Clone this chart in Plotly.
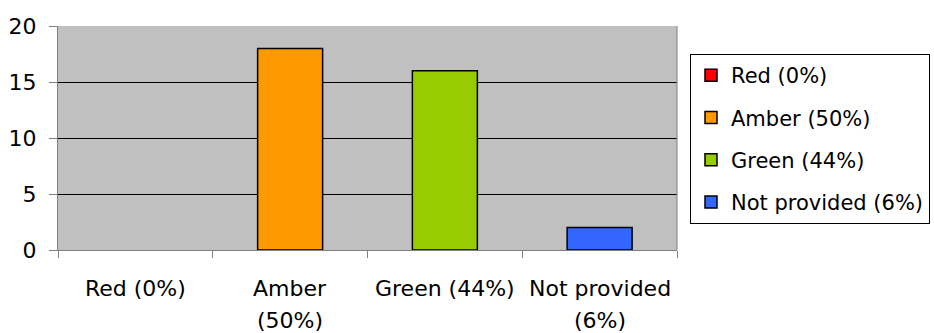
import plotly.graph_objects as go

categories = ["Red (0%)", "Amber (50%)", "Green (44%)", "Not provided (6%)"]
label_lines = [["Red (0%)"], ["Amber", "(50%)"], ["Green (44%)"], ["Not provided", "(6%)"]]
legend_names = ["Red (0%)", "Amber (50%)", "Green (44%)", "Not provided (6%)"]
values = [0, 18, 16, 2]
colors = ["#FF0000", "#FF9900", "#99CC00", "#3366FF"]

FONT = "DejaVu Sans, Liberation Sans, Arial, sans-serif"
FS = 22

fig = go.Figure()
for i, (cat, name, val, col) in enumerate(zip(categories, legend_names, values, colors)):
    fig.add_trace(go.Bar(
        x=[cat], y=[val if val > 0 else None], name=name, width=0.42,
        marker=dict(color=col, line=dict(color="black", width=1.5)),
        legendgroup=f"g{i}",
    ))

# category labels (two-line where the original wraps)
for cat, lines in zip(categories, label_lines):
    for j, line in enumerate(lines):
        fig.add_annotation(
            x=cat, xref="x", y=0, yref="paper",
            text=line, showarrow=False,
            xanchor="center", yanchor="middle",
            yshift=-38 - 32 * j,
            font=dict(size=FS, family=FONT, color="black"),
        )

fig.update_layout(
    width=934, height=333,
    margin=dict(l=58, r=257, t=26, b=83, autoexpand=False),
    paper_bgcolor="white",
    plot_bgcolor="#C0C0C0",
    barmode="overlay",
    font=dict(family=FONT, size=FS, color="black"),
    showlegend=True,
    legend=dict(
        x=1.021, y=0.875, xanchor="left", yanchor="top",
        bordercolor="black", borderwidth=1,
        font=dict(size=21, family=FONT),
        tracegroupgap=12,
    ),
)
fig.update_xaxes(
    type="category", categoryorder="array", categoryarray=categories,
    showline=True, linecolor="#808080", linewidth=1,
    ticks="outside", ticklen=7, tickcolor="#808080",
    tickson="boundaries", showgrid=False,
    showticklabels=False,
)
fig.update_yaxes(
    range=[0, 20], dtick=5, tick0=0,
    showline=True, linecolor="#808080", linewidth=1,
    ticks="outside", ticklen=8, tickcolor="#808080",
    showgrid=True, gridcolor="black", gridwidth=1,
    zeroline=False,
    tickfont=dict(size=FS, family=FONT),
    ticklabelstandoff=8,
)
# right border of plot area
fig.add_shape(type="line", xref="paper", yref="paper", x0=1, x1=1, y0=0, y1=1,
              line=dict(color="#808080", width=1))

fig.write_html("out.html")
